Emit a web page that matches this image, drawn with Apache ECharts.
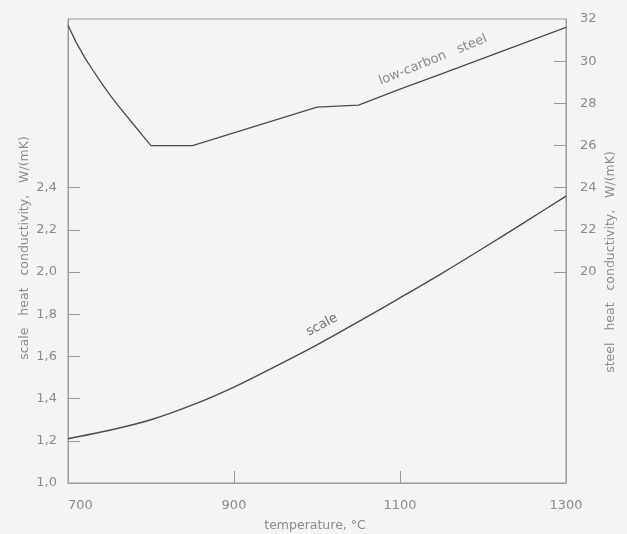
<!DOCTYPE html>
<html>
<head>
<meta charset="utf-8">
<script src="https://cdn.jsdelivr.net/npm/echarts@6/dist/echarts.min.js"></script>
<style>
html,body{margin:0;padding:0;background:#f4f4f4;}
#c{width:627px;height:534px;}
</style>
</head>
<body>
<div id="c"></div>
<script>
// temperatures (°C) and values
var scaleTemps = [700, 750, 800, 850, 900, 950, 1000, 1050, 1100, 1150, 1200, 1250, 1300];
var scaleVals  = [1.21, 1.25, 1.30, 1.37, 1.455, 1.553, 1.655, 1.765, 1.878, 1.993, 2.113, 2.236, 2.36];

var steelTemps = [700, 710, 720, 730, 740, 750, 760, 770, 780, 790, 800, 850, 1000, 1050, 1100, 1150, 1200, 1250, 1300];
var steelVals  = [31.7, 30.88, 30.18, 29.57, 28.98, 28.43, 27.92, 27.43, 26.95, 26.47, 26.0, 26.0, 27.82, 27.92, 28.68, 29.4, 30.13, 30.87, 31.6];

var xLabels = [700, 900, 1100, 1300];
var xTicks = [900, 1100];
var leftLabels = [1.0, 1.2, 1.4, 1.6, 1.8, 2.0, 2.2, 2.4];
var leftTicks = [1.2, 1.4, 1.6, 1.8, 2.0, 2.2, 2.4];
var rightLabels = [20, 22, 24, 26, 28, 30, 32];
var rightTicks = [20, 22, 24, 26, 28, 30];

function pairs(xs, ys) { return xs.map(function (x, i) { return [x, ys[i]]; }); }

var labelColor = '#8a8a8a';
var axisColor = '#9a9a9a';
var lineColor = '#4a4a4a';
var font = 'DejaVu Sans';

function txt(text, x, y, deg, size, color) {
  return { type: 'text', x: x, y: y, rotation: deg * Math.PI / 180,
    style: { text: text, fill: color || labelColor, font: size + 'px ' + font,
      align: 'center', verticalAlign: 'middle', textAlign: 'center', textVerticalAlign: 'middle' } };
}

var chart = echarts.init(document.getElementById('c'));
chart.setOption({
  backgroundColor: '#f4f4f4',
  animation: false,
  grid: { left: 68, top: 19, right: 61, bottom: 51, show: true, borderColor: axisColor, borderWidth: 1, backgroundColor: 'transparent' },
  xAxis: {
    type: 'value', min: 700, max: 1300, interval: 200,
    axisLine: { show: true, lineStyle: { color: axisColor, width: 1 } },
    axisTick: { show: true, inside: true, length: 12, customValues: xTicks, lineStyle: { color: axisColor } },
    axisLabel: { customValues: xLabels, color: labelColor, fontSize: 13, fontFamily: font, margin: 16, alignMinLabel: 'left',
      formatter: function (v) { return String(v); } },
    splitLine: { show: false }
  },
  yAxis: [{
    type: 'value', min: 1.0, max: 3.2, interval: 0.2, position: 'left',
    axisLine: { show: true, lineStyle: { color: axisColor, width: 1 } },
    axisTick: { show: true, inside: true, length: 12, customValues: leftTicks, lineStyle: { color: axisColor } },
    axisLabel: { customValues: leftLabels, color: labelColor, fontSize: 13, fontFamily: font, margin: 11,
      formatter: function (v) { return v.toFixed(1).replace('.', ','); } },
    splitLine: { show: false }
  }, {
    type: 'value', min: 10, max: 32, interval: 2, position: 'right',
    axisLine: { show: true, lineStyle: { color: axisColor, width: 1 } },
    axisTick: { show: true, inside: true, length: 12, customValues: rightTicks, lineStyle: { color: axisColor } },
    axisLabel: { customValues: rightLabels, color: labelColor, fontSize: 13, fontFamily: font, margin: 14,
      formatter: function (v) { return String(v); } },
    splitLine: { show: false }
  }],
  series: [{
    name: 'scale', type: 'line', yAxisIndex: 0, smooth: 0.3, symbol: 'none',
    lineStyle: { color: lineColor, width: 1.4 },
    data: pairs(scaleTemps, scaleVals)
  }, {
    name: 'low-carbon steel', type: 'line', yAxisIndex: 1, smooth: false, symbol: 'none',
    lineStyle: { color: lineColor, width: 1.3 },
    data: pairs(steelTemps, steelVals)
  }],
  graphic: [
    txt('scale   heat   conductivity,   W/(mK)', 25, 248, 90, 12.5),
    txt('steel   heat   conductivity,   W/(mK)', 611, 262, 90, 12.5),
    txt('temperature, °C', 315, 526, 0, 12.5),
    txt('low-carbon   steel', 433, 60, 22, 13),
    txt('scale', 322, 325, 28, 13, '#707070')
  ]
});
</script>
</body>
</html>
